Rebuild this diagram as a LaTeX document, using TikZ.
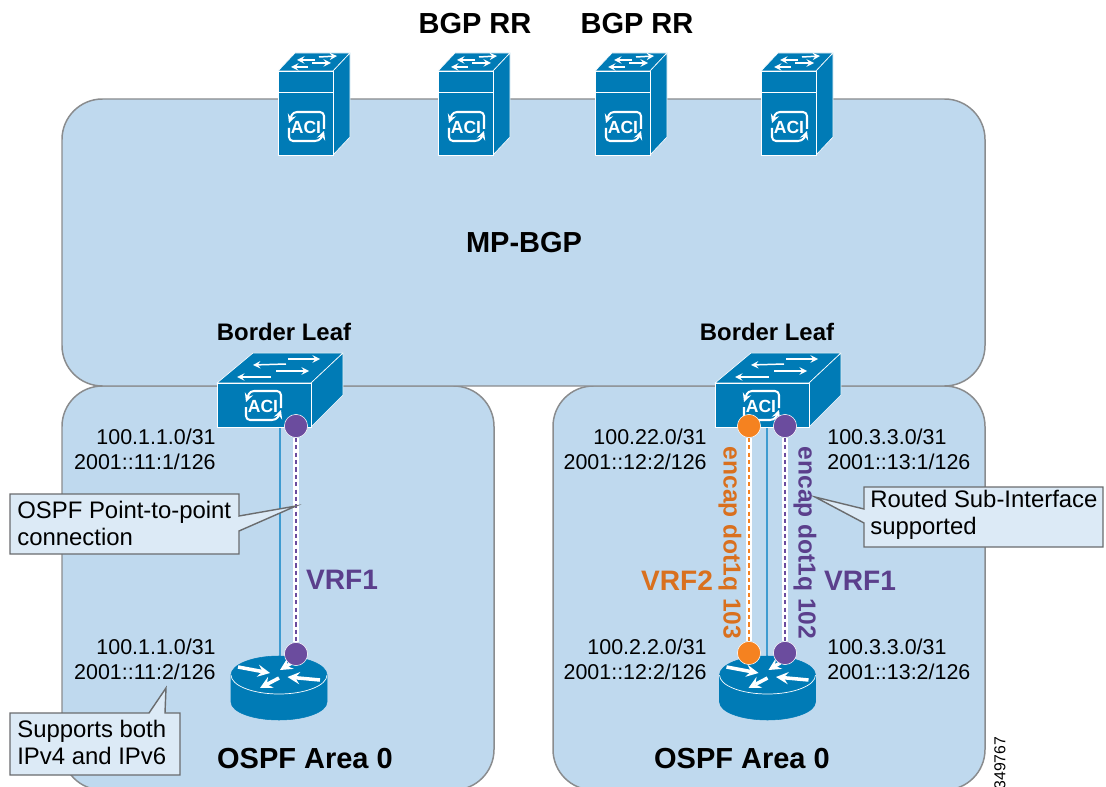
\documentclass[tikz,border=0pt]{standalone}
\usepackage{fontspec}
\setmainfont{Liberation Sans}
\definecolor{panelblue}{HTML}{BFD9EE}
\definecolor{panelline}{HTML}{8A8C8E}
\definecolor{ciscoblue}{HTML}{007BB6}
\definecolor{linkblue}{HTML}{3E9BD0}
\definecolor{noteblue}{HTML}{DCEAF6}
\definecolor{noteline}{HTML}{6A6C6E}
\definecolor{vrfpurple}{HTML}{6B4C9E}
\definecolor{vrforange}{HTML}{F58220}
\definecolor{textpurple}{HTML}{5B3F8C}
\definecolor{textorange}{HTML}{D9701E}
\tikzset{
	panel/.style={draw=panelline,fill=panelblue,line width=.85pt,rounded corners=23pt},
	face/.style={fill=ciscoblue,draw=white,line width=.35pt,line join=round},
	glyph/.style={->,white,line width=.85pt},
	thickglyph/.style={->,white,line width=2pt},
	note/.style={draw=noteline,fill=noteblue,line width=.8pt,line join=miter},
	notetext/.style={anchor=north west,inner sep=0pt,align=left,font=\fontsize{13.6}{15.4}\selectfont},
	addr/.style={inner sep=0pt,font=\fontsize{12.2}{14.3}\selectfont},
	title/.style={inner sep=0pt,font=\fontsize{16.5}{18}\selectfont\bfseries},
	leaftitle/.style={inner sep=0pt,font=\fontsize{13.6}{15}\selectfont\bfseries},
	vrftitle/.style={inner sep=0pt,font=\fontsize{16}{18}\selectfont\bfseries},
	encap/.style={inner sep=0pt,rotate=-90,font=\fontsize{14}{16}\selectfont\bfseries},
	dot/.style={circle,draw=white,line width=.3pt,minimum size=13.2pt,inner sep=0pt},
	bluelink/.style={draw=linkblue,line width=.9pt},
	vrflink/.style={line width=1.4pt,dash pattern=on 2.4pt off 1.8pt,preaction={draw=white,solid,line width=3.2pt}},
	pics/aciicon/.style={code={
		\draw[->,white,line width=1.15pt,line join=round] (18,2)--(18,-11) to[out=90,in=0] (14,-15)--(-9,-15) to[out=180,in=70] (-17,-4);
		\draw[->,white,line width=1.15pt,line join=round] (-17,1)--(-17,10) to[out=-90,in=180] (-13,14)--(9,14) to[out=0,in=-110] (18,4);
		\node[white,inner sep=0pt,font=\fontsize{10}{11}\selectfont\bfseries] (-txt) at (0,0) {ACI};
	}},
	%Tall switch, origin at the top left corner of the front
	pics/towerswitch/.style={code={
		\draw[face] (0,0)--(17,-18)--(72,-18)--(55,0)--cycle;
		\draw[face] (55,0)--(72,-18)--(72,66)--(55,84)--cycle;
		\draw[face] (0,0)--(55,0)--(55,84)--(0,84)--cycle;
		\draw[white,line width=.35pt] (0,21)--(55,21);
		\draw[glyph] (37,-11)--(19,-11);
		\draw[glyph] (41,-14)--(59,-15);
		\draw[glyph] (34,-8)--(53,-8);
		\draw[glyph] (30,-4)--(13,-4);
		\pic (-aci) at (28,56) {aciicon};
	}},
	%Flat switch, origin at the top left corner of the front
	pics/leafswitch/.style={code={
		\draw[face] (0,0)--(36,-30)--(126,-30)--(94,0)--cycle;
		\draw[face] (94,0)--(126,-30)--(126,12)--(94,44)--cycle;
		\draw[face] (0,0)--(94,0)--(94,44)--(0,44)--cycle;
		\draw[glyph] (69,-19)--(36,-18);
		\draw[glyph] (71,-24)--(103,-24);
		\draw[glyph] (59,-12)--(92,-12);
		\draw[glyph] (54,-6)--(20,-6);
		\pic (-aci) at (46,23) {aciicon};
	}},
	%Router, origin at the centre of the top
	pics/routericon/.style={code={
		\draw[fill=ciscoblue,draw=ciscoblue,line width=.3pt] (-48,0)--(-48,27) arc[start angle=180,end angle=0,x radius=48,y radius=18]--(48,0)--cycle;
		\draw[fill=ciscoblue,draw=ciscoblue,line width=.3pt] (0,0) ellipse[x radius=48,y radius=19];
		\draw[white,line width=.4pt] (-48,0) arc[start angle=180,end angle=0,x radius=48,y radius=19];
		\draw[thickglyph] (-41,-8)--(-9,-2);
		\draw[thickglyph] (0,3)--(-19,13);
		\draw[thickglyph] (41,5)--(8.5,2);
		\draw[thickglyph] (12.5,-12)--(1,-5);
	}},
}
\begin{document}
\begin{tikzpicture}[x=0.02cm,y=-0.02cm,line cap=butt,>=stealth]
	\useasboundingbox (0,0) rectangle (1106,787);
	%Panels
	\draw[panel] (62,386) rectangle (494,790);
	\draw[panel] (553,386) rectangle (985,790);
	\draw[panel] (62,99) rectangle (985,386);
	%Spine switches
	\pic (spineA) at (278,71) {towerswitch};
	\pic (spineB) at (438,71) {towerswitch};
	\pic (spineC) at (595,71) {towerswitch};
	\pic (spineD) at (761,71) {towerswitch};
	%Solid links
	\coordinate (leafL) at (280,426);
	\coordinate (routerL) at (280,660);
	\coordinate (leafR) at (767,426);
	\coordinate (routerR) at (767,660);
	\draw[bluelink] (leafL)--(routerL);
	\draw[bluelink] (leafR)--(routerR);
	%Border leaves and routers
	\pic (borderL) at (217,383) {leafswitch};
	\pic (borderR) at (715,383) {leafswitch};
	\pic (ospfL) at (279,675) {routericon};
	\pic (ospfR) at (767.5,675) {routericon};
	%Sub-interfaces
	\node[dot,fill=vrfpurple] (pA) at (296,426) {};
	\node[dot,fill=vrfpurple] (pB) at (296,654) {};
	\node[dot,fill=vrforange] (oC) at (749,426) {};
	\node[dot,fill=vrforange] (oD) at (749,653) {};
	\node[dot,fill=vrfpurple] (pC) at (785,426) {};
	\node[dot,fill=vrfpurple] (pD) at (785,653) {};
	\draw[vrflink,vrfpurple] (pA)--(pB);
	\draw[vrflink,vrforange] (oC)--(oD);
	\draw[vrflink,vrfpurple] (pC)--(pD);
	%Callouts
	\draw[note] (10,494)--(239,494)--(239,516)--(296,506)--(239,531)--(239,554)--(10,554)--cycle;
	\draw[note] (864,487)--(1103,487)--(1103,547)--(864,547)--(864,523)--(815,497)--(864,509)--cycle;
	\draw[note] (10,713)--(149,713)--(166,688)--(165,713)--(180,713)--(180,775)--(10,775)--cycle;
	\node[notetext] (noteA) at (17,501) {OSPF Point-to-point\\connection};
	\node[notetext] (noteB) at (870,490) {Routed Sub-Interface\\supported};
	\node[notetext] (noteC) at (17,720) {Supports both\\IPv4 and IPv6};
	%Addresses
	\node[addr,align=right,anchor=east] (addrA) at (216,449.5) {100.1.1.0/31\\2001::11:1/126};
	\node[addr,align=right,anchor=east] (addrB) at (216,659.5) {100.1.1.0/31\\2001::11:2/126};
	\node[addr,align=right,anchor=east] (addrC) at (707,449.5) {100.22.0/31\\2001::12:2/126};
	\node[addr,align=right,anchor=east] (addrD) at (707,659.5) {100.2.2.0/31\\2001::12:2/126};
	\node[addr,align=left,anchor=west] (addrE) at (827,449.5) {100.3.3.0/31\\2001::13:1/126};
	\node[addr,align=left,anchor=west] (addrF) at (827,659.5) {100.3.3.0/31\\2001::13:2/126};
	%Titles
	\node[title] (rrA) at (475,24) {BGP RR};
	\node[title] (rrB) at (637,24) {BGP RR};
	\node[title] (mpbgp) at (524,243) {MP-BGP};
	\node[leaftitle] (leafA) at (284,332) {Border Leaf};
	\node[leaftitle] (leafB) at (767,332) {Border Leaf};
	\node[title] (areaA) at (305,759) {OSPF Area 0};
	\node[title] (areaB) at (742,759) {OSPF Area 0};
	\node[vrftitle,textpurple] (vrfA) at (342,580) {VRF1};
	\node[vrftitle,textorange] (vrfB) at (677,581) {VRF2};
	\node[vrftitle,textpurple] (vrfC) at (860,581) {VRF1};
	\node[encap,textorange] (encapA) at (730,543) {encap dot1q 103};
	\node[encap,textpurple] (encapB) at (805,543) {encap dot1q 102};
	\node[inner sep=0pt,rotate=90,font=\fontsize{9}{10}\selectfont] (figno) at (1000,763) {349767};
\end{tikzpicture}
\end{document}
